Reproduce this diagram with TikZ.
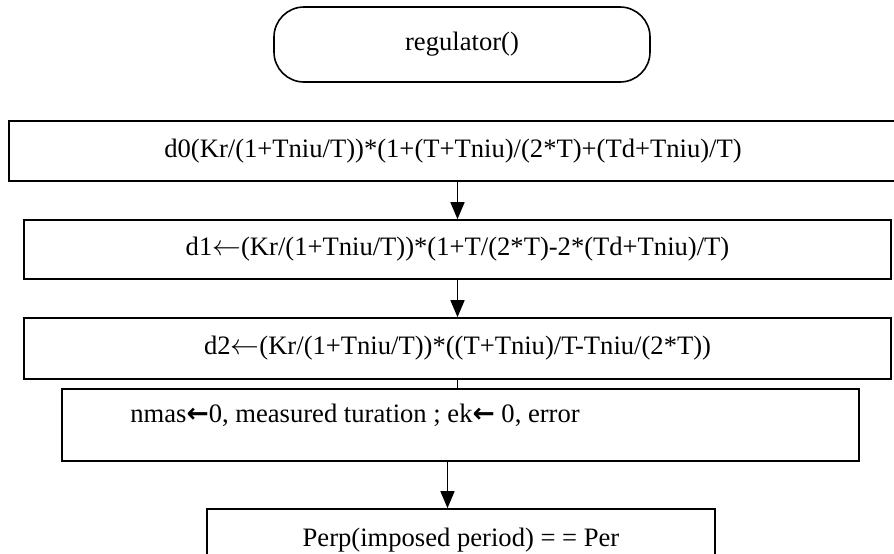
\documentclass[tikz,border=0pt]{standalone}
\usepackage{fontspec}
\setmainfont{Liberation Serif}
\newfontfamily\arrowfont{DejaVu Sans}
\usetikzlibrary{arrows.meta,shapes}
\tikzset{>={Triangle[width=7pt,length=8.5pt]}}
\tikzset{
    stepbox/.style={draw, line width=0.8pt, inner sep=0pt, align=center},
    flowline/.style={line width=0.7pt},
}
\newcommand{\getsarrow}{\ensuremath{\leftarrow}}

\begin{document}
\begin{tikzpicture}[x=0.5pt,y=-0.5pt,font=\fontsize{13.3}{16}\selectfont]
    \useasboundingbox (0,0) rectangle (894,553);

    \node[stepbox, rounded corners=15pt, minimum width=188pt, minimum height=37.5pt] (start) at (462,44.5) {regulator()};

    \node[stepbox, line width=1pt, minimum width=444pt, minimum height=30pt] (d0) at (453,151) {d0(Kr/(1+Tniu/T))*(1+(T+Tniu)/(2*T)+(Td+Tniu)/T)};
    \node[stepbox, minimum width=433.5pt, minimum height=29.5pt] (d1) at (457.5,249.5) {d1\getsarrow(Kr/(1+Tniu/T))*(1+T/(2*T)-2*(Td+Tniu)/T)};
    \node[stepbox, minimum width=433.5pt, minimum height=30.5pt] (d2) at (457.5,348.5) {d2\getsarrow(Kr/(1+Tniu/T))*((T+Tniu)/T-Tniu/(2*T))};

    \node[stepbox, minimum width=398.5pt, minimum height=36pt] (init) at (460.5,425) {};
    \node[anchor=west, inner sep=0pt] (inittxt) at (130,415) {nmas{\arrowfont\bfseries ←}0, measured turation ; ek{\arrowfont\bfseries ←} 0, error};

    \node[stepbox, minimum width=254pt, minimum height=31pt] (perp) at (461,540) {Perp(imposed period) = = Per};

    % connectors
    \draw[flowline,->] (d1.north |- d0.south) -- (d1.north);
    \draw[flowline,->] (d1.south) -- (d2.north);
    \draw[flowline] (d2.south) -- (d2.south |- init.north);
    \draw[flowline,->] ([xshift=-6.5pt]init.south) -- ([xshift=-6.5pt]init.south |- perp.north);
\end{tikzpicture}
\end{document}
